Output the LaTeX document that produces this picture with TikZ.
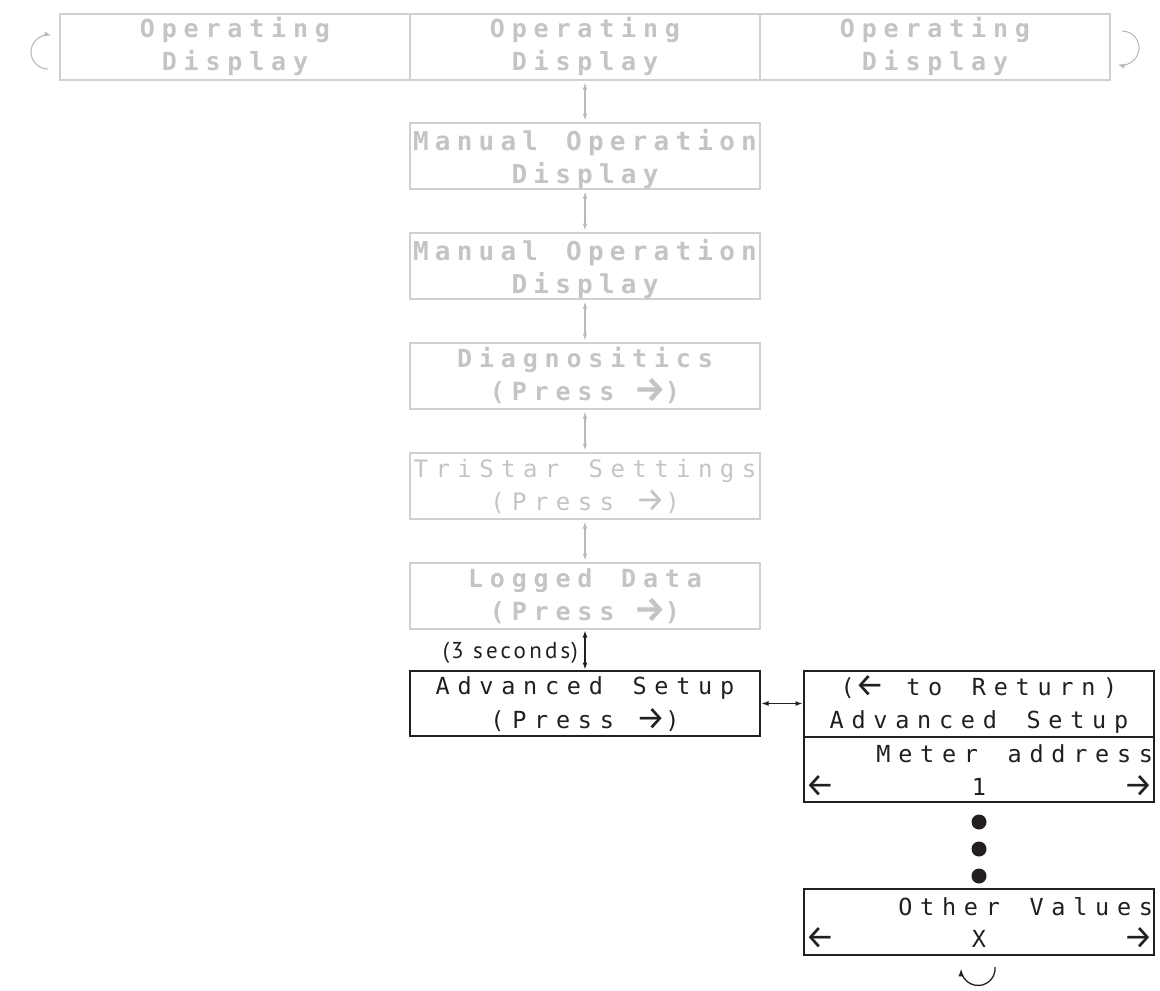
\documentclass[tikz,border=0pt]{standalone}
\usepackage{fontspec}
\usepackage{graphicx}
\usetikzlibrary{arrows.meta}
\newfontfamily\lcdfont{DejaVu Sans Mono}
\newfontfamily\arrowfont{Fira Sans}
\newfontfamily\notefont[LetterSpace=14]{PT Sans}
\definecolor{gline}{RGB}{208,208,208}
\definecolor{gtext}{RGB}{196,196,196}
\definecolor{garr}{RGB}{185,185,185}
\definecolor{ink}{RGB}{35,31,32}
\newlength\lcdw
\setlength\lcdw{21.875pt}
\makeatletter
\def\lcd@loop#1{\ifx#1\relax\else\makebox[\lcdw]{#1}\expandafter\lcd@loop\fi}
\newcommand\lcdstr[1]{\lcd@loop#1\relax}
\makeatother
\newcommand\rarr{\raisebox{-1pt}{\scalebox{1.4}{\arrowfont →}}}
\newcommand\larr{\raisebox{-1pt}{\scalebox{1.4}{\arrowfont ←}}}
\tikzset{
  boxbase/.style={minimum width=350pt, minimum height=66pt, inner sep=0pt, outer sep=0pt, anchor=north west},
  gbox/.style={boxbase, draw=gline, line width=1.2pt},
  kbox/.style={boxbase, draw=ink, line width=1.3pt},
  lcdbase/.style={inner sep=0pt, outer sep=0pt, anchor=base},
  gtxtb/.style={lcdbase, text=gtext, font=\lcdfont\bfseries\fontsize{25pt}{28pt}\selectfont},
  gtxtB/.style={lcdbase, text=gtext, font=\lcdfont\bfseries\fontsize{26pt}{30pt}\selectfont},
  gtxt/.style={lcdbase, text=gtext, font=\lcdfont\fontsize{24pt}{28pt}\selectfont},
  ktxt/.style={lcdbase, text=ink, font=\lcdfont\fontsize{23.5pt}{28pt}\selectfont},
  gconn/.style={draw=garr, line width=1.1pt, {Latex[length=7pt,width=4.5pt]}-{Latex[length=7pt,width=4.5pt]}, shorten >=2.5pt, shorten <=2.5pt},
  kconn/.style={draw=ink, line width=1.2pt, {Latex[length=7pt,width=5pt]}-{Latex[length=7pt,width=5pt]}, shorten >=1.5pt, shorten <=1.5pt},
  gloop/.style={draw=garr, line width=1.1pt, -{Latex[length=7pt,width=5pt]}},
  kloop/.style={draw=ink, line width=1.3pt, -{Latex[length=8pt,width=5.5pt]}},
  dotnode/.style={circle, fill=ink, minimum size=15pt, inner sep=0pt},
}
\begin{document}
\begin{tikzpicture}[x=1pt,y=-1pt]
\useasboundingbox (0,0) rectangle (1160,991);
% top row
\node[gbox] (op1) at (60,14) {};
\node[gbox] (op2) at (410,14) {};
\node[gbox] (op3) at (760,14) {};
\foreach \b in {op1,op2,op3}{
  \node[gtxtb] (\b a) at ([yshift=-23pt]\b.north) {\lcdstr{Operating}};
  \node[gtxtb] (\b b) at ([yshift=-56pt]\b.north) {\lcdstr{Display}};
}
% middle column
\node[gbox] (man1) at (410,123) {};
\node[gbox] (man2) at (410,233) {};
\node[gbox] (diag) at (410,343) {};
\node[gbox] (tri)  at (410,453) {};
\node[gbox] (logd) at (410,563) {};
\node[kbox, minimum height=65pt] (adv) at (410,671) {};
\foreach \b in {man1,man2}{
  \node[gtxtB] (\b a) at ([yshift=-27pt]\b.north) {\lcdstr{Manual~Operation}};
  \node[gtxtB] (\b b) at ([yshift=-60pt]\b.north) {\lcdstr{Display}};
}
\node[gtxtb] (diaga) at ([yshift=-24pt]diag.north) {\lcdstr{Diagnositics}};
\node[gtxtb] (diagb) at ([yshift=-57pt]diag.north) {\lcdstr{(Press~\rarr)}};
\node[gtxt] (tria) at ([yshift=-24pt]tri.north) {\lcdstr{TriStar~Settings}};
\node[gtxt] (trib) at ([yshift=-57pt]tri.north) {\lcdstr{(Press~\rarr)}};
\node[gtxtb] (loga) at ([yshift=-24pt]logd.north) {\lcdstr{Logged~Data}};
\node[gtxtb] (logb) at ([yshift=-57pt]logd.north) {\lcdstr{(Press~\rarr)}};
\node[ktxt] (adva) at ([yshift=-23pt]adv.north) {\lcdstr{Advanced~Setup}};
\node[ktxt] (advb) at ([yshift=-57pt]adv.north) {\lcdstr{(Press~\rarr)}};
% right column
\node[kbox] (ret) at (804,671) {};
\node[kbox, minimum height=65pt] (meter) at (804,737) {};
\node[kbox] (other) at (804,889) {};
\node[ktxt] (reta) at ([yshift=-24pt]ret.north) {\lcdstr{(\larr~to~Return)}};
\node[ktxt] (retb) at ([yshift=-57pt]ret.north) {\lcdstr{Advanced~Setup}};
\node[ktxt, anchor=base east] (metera) at ([xshift=3pt,yshift=-25pt]meter.north east) {\lcdstr{Meter~address}};
\node[ktxt] (meterb) at ([yshift=-58pt]meter.north) {1};
\node[ktxt, anchor=base west] (meterl) at ([xshift=1pt,yshift=-58pt]meter.north west) {\larr};
\node[ktxt, anchor=base east] (meterr) at ([xshift=-1pt,yshift=-58pt]meter.north east) {\rarr};
\node[ktxt, anchor=base east] (othera) at ([xshift=3pt,yshift=-26pt]other.north east) {\lcdstr{Other~Values}};
\node[ktxt] (otherb) at ([yshift=-58pt]other.north) {X};
\node[ktxt, anchor=base west] (otherl) at ([xshift=1pt,yshift=-58pt]other.north west) {\larr};
\node[ktxt, anchor=base east] (otherr) at ([xshift=-1pt,yshift=-58pt]other.north east) {\rarr};
\node[dotnode] (d1) at (979,822) {};
\node[dotnode] (d2) at (979,849) {};
\node[dotnode] (d3) at (979,876) {};
% connectors
\draw[gconn] (op2.south) -- (man1.north);
\draw[gconn] (man1.south) -- (man2.north);
\draw[gconn] (man2.south) -- (diag.north);
\draw[gconn] (diag.south) -- (tri.north);
\draw[gconn] (tri.south) -- (logd.north);
\draw[kconn] (logd.south) -- (adv.north);
\draw[kconn] (adv.east) -- (adv.east -| ret.west);
\node[text=ink, font=\notefont\fontsize{23pt}{26pt}\selectfont, inner sep=0pt, anchor=base east] (secs) at (578,658) {(\hspace{2pt}3 seconds\hspace{1pt})};
% loops
\coordinate (lloop) at (48,69);
\draw[gloop] (lloop) arc[start angle=-90, end angle=-282, radius=17pt];
\coordinate (rloop) at (1122,31);
\draw[gloop] (rloop) arc[start angle=90, end angle=-105, radius=17pt];
\coordinate (bloop) at (995,967);
\draw[kloop] (bloop) arc[start angle=5, end angle=-180, radius=17pt];
\end{tikzpicture}
\end{document}
